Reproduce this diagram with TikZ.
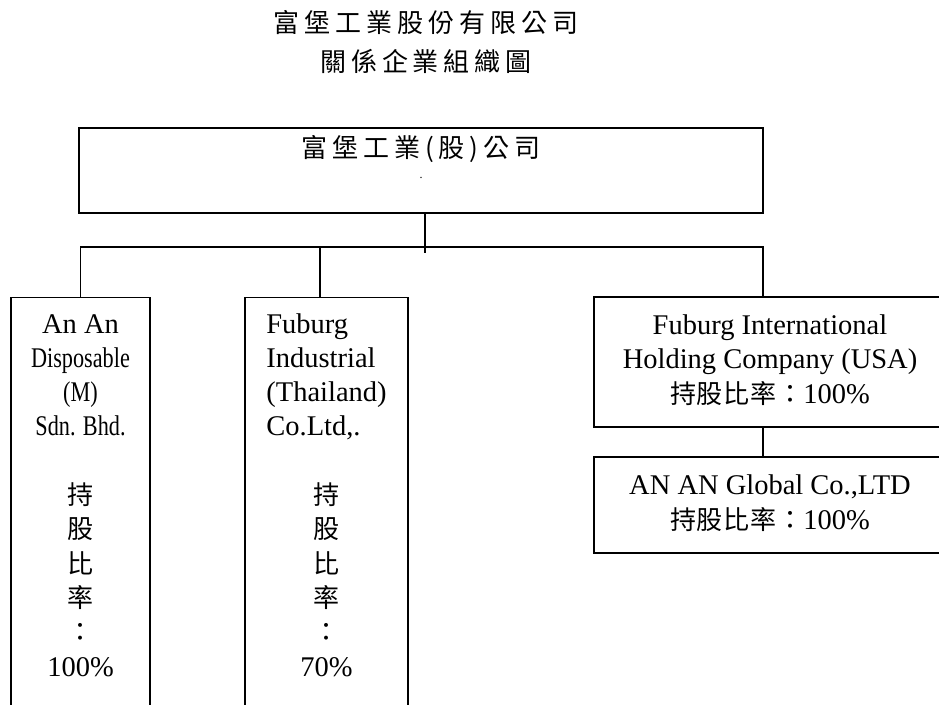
\documentclass[tikz,border=0pt]{standalone}
\usepackage{fontspec}
\setmainfont{Liberation Serif}
\newfontfamily\cjk[LetterSpace=3]{Noto Sans CJK TC}
\newfontfamily\cjkwide[LetterSpace=19]{Noto Sans CJK TC}
\newfontfamily\narrow[FakeStretch=0.78]{Liberation Serif}
\newcommand{\zh}[1]{{\cjk\fontsize{26}{34.3}\selectfont #1}}
\newcommand{\lft}[1]{\multicolumn{1}{@{}l@{}}{#1}}
\tikzset{
  orgbox/.style={draw=black, line width=1.4pt, inner sep=0pt, font=\fontsize{28.5}{34.3}\selectfont},
  link/.style={black, line width=1.4pt},
  txt/.style={inner sep=0pt, font=\fontsize{28.5}{34.3}\selectfont},
  ttl/.style={inner sep=0pt, font=\cjkwide\fontsize{26}{38.6}\selectfont},
}

\begin{document}
\begin{tikzpicture}[x=1pt, y=-1pt]
  \useasboundingbox (0,0) rectangle (939,704);
  \clip (0,0) rectangle (939,704);

  % ---------------- title ----------------
  \node[ttl, anchor=base] (title) at (426,32.4)
    {\begin{tabular}[t]{@{}c@{}}富堡工業股份有限公司\\關係企業組織圖\end{tabular}};

  % ---------------- parent company ----------------
  \node[orgbox, minimum width=684pt, minimum height=85pt] (main) at (421,170.5) {};
  \node[txt, anchor=base] (mainTxt) at (421,157)
    {\begin{tabular}[t]{@{}c@{}}\cjkwide\fontsize{26}{34.3}\selectfont 富堡工業(股)公司\\[-13.3pt]\fontsize{12}{14}\selectfont .\end{tabular}};

  % ---------------- subsidiaries ----------------
  \node[orgbox, minimum width=139pt, minimum height=440pt, anchor=north] (anan) at (80.5,297) {};
  \node[orgbox, minimum width=163pt, minimum height=440pt, anchor=north] (thai) at (326.5,297) {};
  \node[txt, anchor=base] (ananTxt) at (80.5,333)
    {\begin{tabular}[t]{@{}c@{}}An An\\\narrow Disposable\\\narrow (M)\\\narrow Sdn. Bhd.\\[34.3pt]
     \zh{持}\\\zh{股}\\\zh{比}\\\zh{率}\\\zh{：}\\100\%\end{tabular}};
  \node[txt, anchor=base] (thaiTxt) at (326.5,333)
    {\begin{tabular}[t]{@{}c@{}}\lft{Fuburg}\\\lft{Industrial}\\\lft{(Thailand)}\\\lft{Co.Ltd,.}\\[34.3pt]
     \zh{持}\\\zh{股}\\\zh{比}\\\zh{率}\\\zh{：}\\70\%\end{tabular}};
  \node[orgbox, minimum width=352pt, minimum height=130pt] (usa) at (770,362)
    {\begin{tabular}{@{}c@{}}Fuburg International\\Holding Company (USA)\\\zh{持股比率：}100\%\end{tabular}};
  \node[orgbox, minimum width=352pt, minimum height=96pt] (global) at (770,505)
    {\begin{tabular}{@{}c@{}}AN AN Global Co.,LTD\\\zh{持股比率：}100\%\end{tabular}};

  % ---------------- connectors ----------------
  \coordinate (hub) at (425,247);
  \coordinate (busM) at (320,247);
  \coordinate (busR) at (763,247);
  \draw[link] (main.south -| hub) -- ([yshift=-6pt]hub);
  \draw[link] (anan.north) |- (busR) -- (busR |- usa.north);
  \draw[link] (busM) -- (busM |- thai.north);
  \draw[link] (busR |- usa.south) -- (busR |- global.north);
\end{tikzpicture}
\end{document}
